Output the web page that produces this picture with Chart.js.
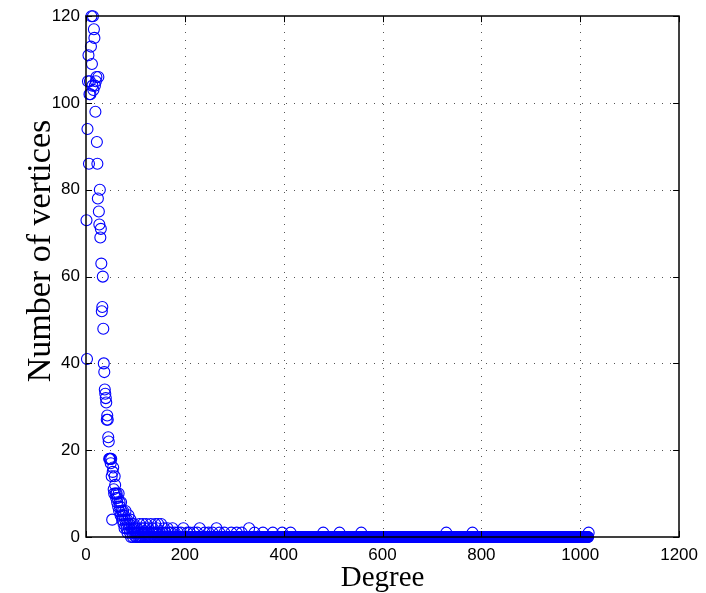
<!DOCTYPE html>
<html><head><meta charset="utf-8">
<script src="https://cdn.jsdelivr.net/npm/chart.js@4/dist/chart.umd.min.js"></script>
<style>html,body{margin:0;padding:0;background:#fff}canvas{display:block}</style>
</head><body>
<canvas id="c" width="706" height="593"></canvas>
<script>
// Degree -> number of vertices (non-zero counts)
const degrees = [
  1,2,3,4,5,6,7,8,9,10,11,12,13,14,15,16,17,18,19,20,
  21,22,23,24,25,26,27,28,29,30,31,32,33,34,35,36,37,38,39,40,
  41,42,43,44,45,46,47,48,49,50,51,52,53,54,55,56,57,58,59,60,
  61,62,63,64,65,66,67,68,69,70,71,72,73,74,75,76,77,78,79,80,
  81,82,83,84,85,86,87,88,89,90,92,93,94,96,97,98,99,
  101,103,104,106,108,110,112,114,115,117,118,120,122,124,126,128,131,133,135,137,
  140,142,143,146,149,152,155,158,161,165,168,172,175,180,186,192,197,205,210,218,
  225,230,240,248,256,264,270,280,294,305,315,330,341,358,378,397,414,480,513,557,
  729,782,1017
];
const vertexCounts = [
  73,41,94,105,111,86,102,105,102,113,120,109,104,120,103,117,115,104,98,105,
  106,91,86,78,106,75,72,80,69,71,63,52,53,60,48,40,38,34,33,32,
  31,27,28,27,23,22,18,18,18,17,18,14,4,15,16,11,10,14,12,10,
  9,10,8,9,7,10,6,8,7,5,8,6,4,5,6,3,5,2,4,6,
  3,2,4,1,3,5,2,3,1,4,2,3,1,2,3,1,2,
  1,1,2,1,3,1,2,1,3,1,2,1,3,1,2,1,3,1,2,1,
  3,1,2,3,1,3,1,2,1,2,1,1,2,1,1,1,2,1,1,1,
  1,2,1,1,1,2,1,1,1,1,1,2,1,1,1,1,1,1,1,1,
  1,1,1
];
// every other degree in this range has zero vertices (the solid band on the axis)
const zeroDegreeRange = [76, 1016];
const xTicks = [0, 200, 400, 600, 800, 1000, 1200];
const yTicks = [0, 20, 40, 60, 80, 100, 120];
const xTitle = 'Degree';
const yTitle = 'Number of vertices';

const countByDegree = new Map(degrees.map((d, i) => [d, vertexCounts[i]]));
const points = [];
for (let d = zeroDegreeRange[0]; d <= zeroDegreeRange[1]; d++) {
  if (!countByDegree.has(d)) points.push({x: d, y: 0});
}
degrees.forEach((d, i) => points.push({x: d, y: vertexCounts[i]}));

const frame = {
  id: 'frame',
  beforeDatasetsDraw(chart) {
    const {ctx, chartArea: a, scales: {x, y}} = chart;
    ctx.save();
    ctx.strokeStyle = '#555';
    ctx.lineWidth = 1;
    ctx.setLineDash([1, 7]);
    xTicks.forEach(v => {
      if (v <= xTicks[0] || v >= xTicks[xTicks.length - 1]) return;
      const px = Math.round(x.getPixelForValue(v)) + 0.5;
      ctx.beginPath(); ctx.moveTo(px, a.bottom); ctx.lineTo(px, a.top); ctx.stroke();
    });
    yTicks.forEach(v => {
      if (v <= yTicks[0] || v >= yTicks[yTicks.length - 1]) return;
      const py = Math.round(y.getPixelForValue(v)) + 0.5;
      ctx.beginPath(); ctx.moveTo(a.left, py); ctx.lineTo(a.right, py); ctx.stroke();
    });
    ctx.restore();
  },
  afterDatasetsDraw(chart) {
    const {ctx, chartArea: a, scales: {x, y}} = chart;
    ctx.save();
    ctx.strokeStyle = '#000';
    ctx.lineWidth = 1.5;
    ctx.strokeRect(Math.round(a.left), Math.round(a.top), Math.round(a.right - a.left), Math.round(a.bottom - a.top));
    ctx.lineWidth = 1;
    const tl = 6;
    xTicks.forEach(v => {
      const px = Math.round(x.getPixelForValue(v)) + 0.5;
      ctx.beginPath(); ctx.moveTo(px, a.bottom); ctx.lineTo(px, a.bottom - tl);
      ctx.moveTo(px, a.top); ctx.lineTo(px, a.top + tl); ctx.stroke();
    });
    yTicks.forEach(v => {
      const py = Math.round(y.getPixelForValue(v)) + 0.5;
      ctx.beginPath(); ctx.moveTo(a.left, py); ctx.lineTo(a.left + tl, py);
      ctx.moveTo(a.right, py); ctx.lineTo(a.right - tl, py); ctx.stroke();
    });
    ctx.fillStyle = '#000';
    ctx.textAlign = 'center';
    ctx.textBaseline = 'alphabetic';
    ctx.font = '29px "Liberation Serif"';
    ctx.fillText(xTitle, (a.left + a.right) / 2, 586);
    ctx.font = '34px "Liberation Serif"';
    ctx.translate(50, 251);
    ctx.rotate(-Math.PI / 2);
    ctx.fillText(yTitle, 0, 0);
    ctx.restore();
  }
};

new Chart(document.getElementById('c'), {
  type: 'scatter',
  data: {datasets: [{
    data: points,
    pointStyle: 'circle',
    pointRadius: 5.5,
    pointHoverRadius: 5.5,
    borderColor: '#0000ff',
    backgroundColor: 'rgba(0,0,0,0)',
    borderWidth: 1.1,
    clip: false
  }]},
  options: {
    responsive: false,
    animation: false,
    devicePixelRatio: 1,
    events: [],
    plugins: {legend: {display: false}, tooltip: {enabled: false}},
    layout: {padding: {top: 14, right: 26, left: 0, bottom: 0}},
    scales: {
      x: {
        type: 'linear', min: 0, max: 1200,
        afterFit(s) { s.height = 56; },
        afterBuildTicks(s) { s.ticks = xTicks.map(v => ({value: v})); },
        ticks: {font: {family: 'Liberation Sans', size: 17}, color: '#000', padding: 8, maxRotation: 0, autoSkip: false,
                callback: v => String(v)},
        grid: {display: false, drawTicks: false},
        border: {display: false}
      },
      y: {
        type: 'linear', min: 0, max: 120,
        afterFit(s) { s.width = 86; },
        afterBuildTicks(s) { s.ticks = yTicks.map(v => ({value: v})); },
        ticks: {font: {family: 'Liberation Sans', size: 17}, color: '#000', padding: 6, autoSkip: false,
                callback: v => String(v)},
        grid: {display: false, drawTicks: false},
        border: {display: false}
      }
    }
  },
  plugins: [frame]
});
</script>
</body></html>
